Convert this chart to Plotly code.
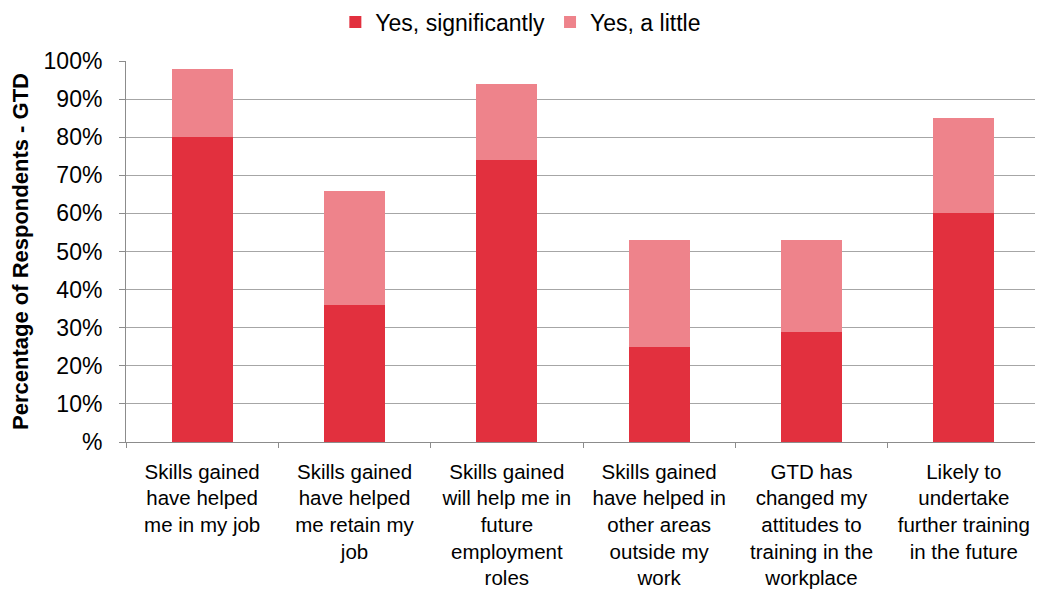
import plotly.graph_objects as go

categories = [
    "Skills gained<br>have helped<br>me in my job",
    "Skills gained<br>have helped<br>me retain my<br>job",
    "Skills gained<br>will help me in<br>future<br>employment<br>roles",
    "Skills gained<br>have helped in<br>other areas<br>outside my<br>work",
    "GTD has<br>changed my<br>attitudes to<br>training in the<br>workplace",
    "Likely to<br>undertake<br>further training<br>in the future",
]
yes_significantly = [80, 36, 74, 25, 29, 60]
yes_a_little = [18, 30, 20, 28, 24, 25]

tick_vals = [0, 10, 20, 30, 40, 50, 60, 70, 80, 90, 100]
tick_text = ["%", "10%", "20%", "30%", "40%", "50%", "60%", "70%", "80%", "90%", "100%"]

fig = go.Figure()
fig.add_trace(go.Bar(x=categories, y=yes_significantly, name="Yes, significantly",
                     marker=dict(color="#E2303E", line=dict(width=0))))
fig.add_trace(go.Bar(x=categories, y=yes_a_little, name="Yes, a little",
                     marker=dict(color="#EE838B", line=dict(width=0))))

# page body has an 8px default margin, so the figure is a bit smaller than the window
fig.update_layout(
    barmode="stack",
    bargap=0.6,
    width=1035, height=582,
    margin=dict(l=118, r=3, t=53, b=148, autoexpand=False),
    paper_bgcolor="white", plot_bgcolor="white",
    font=dict(family="Liberation Sans, Arial, sans-serif", size=23, color="black"),
    legend=dict(orientation="h", x=0.432, xanchor="center",
                y=1.102, yanchor="middle",
                font=dict(size=23), itemwidth=30, traceorder="normal"),
)
fig.update_xaxes(
    showline=True, linecolor="#8C8C8C", linewidth=1,
    ticks="outside", tickson="boundaries", ticklen=5, tickcolor="#8C8C8C",
    tickfont=dict(size=20.5), automargin=False, ticklabelstandoff=11,
)
fig.update_yaxes(
    range=[0, 100], tickvals=tick_vals, ticktext=tick_text,
    showgrid=True, gridcolor="#A6A6A6", gridwidth=1,
    showline=True, linecolor="#8C8C8C", linewidth=1,
    ticks="outside", ticklen=6, tickcolor="#8C8C8C",
    tickfont=dict(size=23), automargin=False, ticklabelstandoff=12,
    title=dict(text="<b>Percentage of Respondents - GTD</b>", font=dict(size=22), standoff=14),
)

fig.write_html("out.html")
